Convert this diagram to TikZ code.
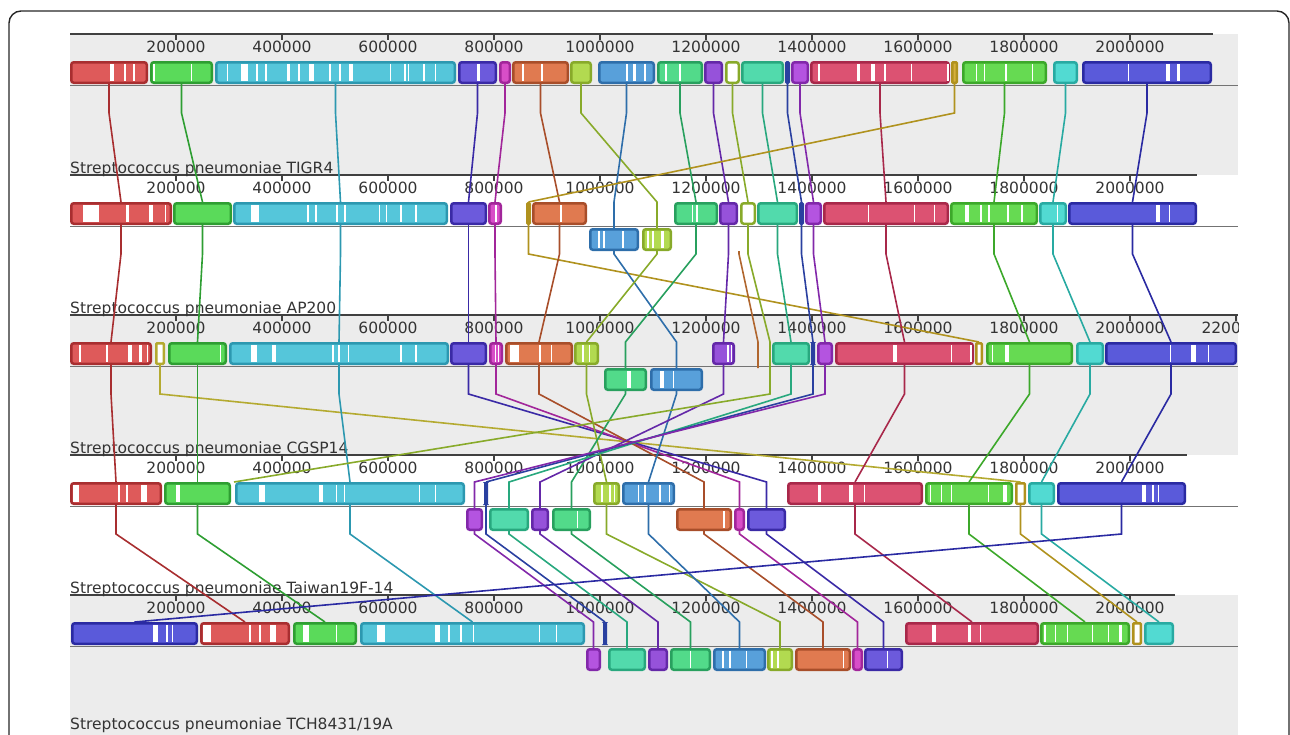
\documentclass[tikz,border=0pt]{standalone}
\usepackage{fontspec}
\newfontfamily\mauvefont{DejaVu Sans}
\definecolor{panelgray}{HTML}{ECECEC}
\definecolor{redF}{HTML}{DE5A5A}\definecolor{redL}{HTML}{A82E30}
\definecolor{greenF}{HTML}{5ADA5A}\definecolor{greenL}{HTML}{2E9E32}
\definecolor{cyanF}{HTML}{55C6DA}\definecolor{cyanL}{HTML}{2C98B0}
\definecolor{violetF}{HTML}{6C5ADC}\definecolor{violetL}{HTML}{3A2AA6}
\definecolor{magF}{HTML}{D84EC8}\definecolor{magL}{HTML}{A2269A}
\definecolor{orangeF}{HTML}{E07A50}\definecolor{orangeL}{HTML}{A84E2A}
\definecolor{limeF}{HTML}{B2DA50}\definecolor{limeL}{HTML}{88AA2A}
\definecolor{blueF}{HTML}{58A0DA}\definecolor{blueL}{HTML}{2E6EAA}
\definecolor{seaF}{HTML}{52DA8A}\definecolor{seaL}{HTML}{28A05E}
\definecolor{purpF}{HTML}{9652DA}\definecolor{purpL}{HTML}{6428A8}
\definecolor{mintF}{HTML}{52DAAC}\definecolor{mintL}{HTML}{28A87E}
\definecolor{navyF}{HTML}{3A5AC6}\definecolor{navyL}{HTML}{2A40A0}
\definecolor{orchF}{HTML}{B454E0}\definecolor{orchL}{HTML}{8228AA}
\definecolor{crimF}{HTML}{DC5272}\definecolor{crimL}{HTML}{A8284A}
\definecolor{goldF}{HTML}{D6B03C}\definecolor{goldL}{HTML}{B0921E}
\definecolor{oliveL}{HTML}{B4AA30}
\definecolor{greF}{HTML}{66DA52}\definecolor{greL}{HTML}{3CA82A}
\definecolor{turqF}{HTML}{52DAD2}\definecolor{turqL}{HTML}{28AAA2}
\definecolor{dblueF}{HTML}{5A5ADA}\definecolor{dblueL}{HTML}{2A2AA2}
\definecolor{brownL}{HTML}{B0662E}
\tikzset{
  lcb/.style={draw, rounded corners=2.5pt, line width=2.5pt, minimum height=20.5pt,
    inner sep=0pt, anchor=north west},
  thin/.style={rounded corners=0.8pt},
  ghost/.style={inner sep=0pt, outer sep=0pt, minimum size=0pt},
  lnk/.style={line width=1.6pt},
  ruler/.style={draw=black!75, line width=1.2pt},
  midline/.style={draw=black!55, line width=0.9pt},
  tick/.style={font=\mauvefont\fontsize{15.5}{17}\selectfont, text=black!80, inner sep=0pt},
  gname/.style={font=\mauvefont\fontsize{15.5}{17}\selectfont, text=black!80,
    anchor=base west, inner sep=0pt},
  bred/.style={fill=redF, draw=redL}, bgreen/.style={fill=greenF, draw=greenL},
  bcyan/.style={fill=cyanF, draw=cyanL}, bviolet/.style={fill=violetF, draw=violetL},
  bmag/.style={fill=magF, draw=magL}, borange/.style={fill=orangeF, draw=orangeL},
  blime/.style={fill=limeF, draw=limeL}, bblue/.style={fill=blueF, draw=blueL},
  bsea/.style={fill=seaF, draw=seaL}, bpurp/.style={fill=purpF, draw=purpL},
  bkay/.style={fill=white, draw=limeL}, bmint/.style={fill=mintF, draw=mintL},
  bnavy/.style={fill=navyF, draw=navyL, thin}, borch/.style={fill=orchF, draw=orchL},
  bcrim/.style={fill=crimF, draw=crimL}, bgold/.style={fill=goldF, draw=goldL},
  bgoldw/.style={fill=white, draw=goldL}, bolivew/.style={fill=white, draw=oliveL},
  bgre/.style={fill=greF, draw=greL}, bturq/.style={fill=turqF, draw=turqL},
  bdblue/.style={fill=dblueF, draw=dblueL}
}
\newcommand{\lcbbox}[5]{\node[lcb,#5,minimum width={#3-#2-2.5}] (#1) at (#2,#4) {};}
\newcommand{\link}[3]{\draw[lnk,draw=#3] (#1.south) -- (#1.south |- 0,\bend) -- (#2.north |- 0,\arr) -- (#2.north);}
\newcommand{\ruler}[3]{\draw[ruler] (70,#1) -- (#2,#1);
  \foreach \v in {2,4,...,#3} {\draw[ruler] (70+53*\v,#1) -- ++(0,6);
    \node[tick] at (70+53*\v,#1+13) {\v00000};}}
\newcommand{\gaps}[2]{\foreach \x/\w in {#2} \fill[white] (\x,#1+3) rectangle ++(\w,17);}

\begin{document}
\begin{tikzpicture}[x=1pt,y=-1pt]
  \useasboundingbox (0,0) rectangle (1290,734);
  \fill[panelgray] (70,34) rectangle (1238,175);
  \fill[panelgray] (70,315) rectangle (1238,455);
  \fill[panelgray] (70,595) rectangle (1238,770);

  \ruler{34}{1213}{20}
  \ruler{175}{1197}{20}
  \begin{scope}
    \clip (70,300) rectangle (1238,455);
    \ruler{315}{1238}{22}
  \end{scope}
  \ruler{455}{1187}{20}
  \ruler{595}{1175}{20}

  \draw[midline] (70,85) -- (1238,85);
  \draw[midline] (70,226) -- (1238,226);
  \draw[midline] (70,366) -- (1238,366);
  \draw[midline] (70,506) -- (1238,506);
  \draw[midline] (70,646) -- (1238,646);

  \node[gname] (lab1) at (70,173) {Streptococcus pneumoniae TIGR4};
  \node[gname] (lab2) at (70,313) {Streptococcus pneumoniae AP200};
  \node[gname] (lab3) at (70,453) {Streptococcus pneumoniae CGSP14};
  \node[gname] (lab4) at (70,593) {Streptococcus pneumoniae Taiwan19F-14};
  \node[gname] (lab5) at (70,729.5) {Streptococcus pneumoniae TCH8431/19A};

  \lcbbox{a1}{70}{148}{61}{bred}
  \lcbbox{b1}{150}{213}{61}{bgreen}
  \lcbbox{c1}{215}{456}{61}{bcyan}
  \lcbbox{d1}{458}{497}{61}{bviolet}
  \lcbbox{e1}{499}{511}{61}{bmag}
  \lcbbox{f1}{512}{569}{61}{borange}
  \lcbbox{g1}{570}{592}{61}{blime}
  \lcbbox{h1}{598}{655}{61}{bblue}
  \lcbbox{i1}{657}{703}{61}{bsea}
  \lcbbox{j1}{704}{723}{61}{bpurp}
  \lcbbox{k1}{725}{740}{61}{bkay}
  \lcbbox{l1}{741}{784}{61}{bmint}
  \lcbbox{m1}{785}{790}{61}{bnavy}
  \lcbbox{n1}{791}{809}{61}{borch}
  \lcbbox{o1}{810}{950}{61}{bcrim}
  \lcbbox{p1}{951}{958}{61}{bgold,thin}
  \lcbbox{q1}{962}{1047}{61}{bgre}
  \lcbbox{r1}{1053}{1078}{61}{bturq}
  \lcbbox{s1}{1082}{1212}{61}{bdblue}

  \lcbbox{a2}{70}{172}{202}{bred}
  \lcbbox{b2}{173}{232}{202}{bgreen}
  \lcbbox{c2}{233}{448}{202}{bcyan}
  \lcbbox{d2}{450}{487}{202}{bviolet}
  \lcbbox{e2}{488}{502}{202}{bmag}
  \lcbbox{p2}{526}{531}{202}{bgoldw,thin}
  \lcbbox{f2}{532}{587}{202}{borange}
  \lcbbox{h2}{589}{639}{228}{bblue}
  \lcbbox{g2}{642}{672}{228}{blime}
  \lcbbox{i2}{674}{718}{202}{bsea}
  \lcbbox{j2}{719}{738}{202}{bpurp}
  \node[ghost] (br2) at (739,251) {};
  \lcbbox{k2}{740}{756}{202}{bkay}
  \lcbbox{l2}{757}{798}{202}{bmint}
  \lcbbox{m2}{799}{804}{202}{bnavy}
  \lcbbox{n2}{805}{822}{202}{borch}
  \lcbbox{o2}{823}{949}{202}{bcrim}
  \lcbbox{q2}{950}{1038}{202}{bgre}
  \lcbbox{r2}{1039}{1067}{202}{bturq}
  \lcbbox{s2}{1068}{1197}{202}{bdblue}

  \lcbbox{a3}{70}{152}{342}{bred}
  \lcbbox{t3}{155}{165}{342}{bolivew,thin}
  \lcbbox{b3}{168}{227}{342}{bgreen}
  \lcbbox{c3}{229}{449}{342}{bcyan}
  \lcbbox{d3}{450}{487}{342}{bviolet}
  \lcbbox{e3}{489}{503}{342}{bmag}
  \lcbbox{f3}{505}{573}{342}{borange}
  \lcbbox{g3}{574}{599}{342}{blime}
  \lcbbox{i3}{604}{647}{368}{bsea}
  \lcbbox{h3}{650}{703}{368}{bblue}
  \lcbbox{j3}{712}{735}{342}{bpurp}
  \node[ghost] (br3) at (758,368) {};
  \node[ghost] (k3) at (770,342) {};
  \lcbbox{l3}{772}{810}{342}{bmint}
  \lcbbox{m3}{811}{815}{342}{bnavy}
  \lcbbox{n3}{817}{833}{342}{borch}
  \lcbbox{o3}{835}{974}{342}{bcrim}
  \lcbbox{p3}{975}{983}{342}{bgoldw,thin}
  \lcbbox{q3}{986}{1073}{342}{bgre}
  \lcbbox{r3}{1076}{1104}{342}{bturq}
  \lcbbox{s3}{1105}{1237}{342}{bdblue}

  \lcbbox{a4}{70}{162}{482}{bred}
  \lcbbox{b4}{164}{231}{482}{bgreen}
  \node[ghost] (k4) at (234,482) {};
  \lcbbox{c4}{235}{465}{482}{bcyan}
  \lcbbox{n4}{466}{483}{508}{borch}
  \lcbbox{m4}{484}{488}{482}{bnavy}
  \lcbbox{l4}{489}{529}{508}{bmint}
  \lcbbox{j4}{531}{549}{508}{bpurp}
  \lcbbox{i4}{552}{591}{508}{bsea}
  \lcbbox{g4}{593}{620}{482}{blime}
  \lcbbox{h4}{622}{675}{482}{bblue}
  \lcbbox{f4}{676}{732}{508}{borange}
  \lcbbox{e4}{734}{745}{508}{bmag}
  \lcbbox{d4}{747}{786}{508}{bviolet}
  \lcbbox{o4}{787}{923}{482}{bcrim}
  \lcbbox{q4}{925}{1013}{482}{bgre}
  \lcbbox{p4}{1015}{1026}{482}{bgoldw,thin}
  \lcbbox{r4}{1028}{1055}{482}{bturq}
  \lcbbox{s4}{1057}{1186}{482}{bdblue}

  \lcbbox{s5}{71}{198}{622}{bdblue}
  \lcbbox{a5}{200}{290}{622}{bred}
  \lcbbox{b5}{293}{357}{622}{bgreen}
  \lcbbox{c5}{360}{585}{622}{bcyan}
  \lcbbox{n5}{586}{601}{648}{borch}
  \lcbbox{m5}{603}{607}{622}{bnavy}
  \lcbbox{l5}{608}{646}{648}{bmint}
  \lcbbox{j5}{648}{668}{648}{bpurp}
  \lcbbox{i5}{670}{711}{648}{bsea}
  \lcbbox{h5}{713}{766}{648}{bblue}
  \lcbbox{g5}{767}{793}{648}{blime}
  \lcbbox{f5}{795}{851}{648}{borange}
  \lcbbox{e5}{852}{863}{648}{bmag}
  \lcbbox{d5}{864}{903}{648}{bviolet}
  \lcbbox{o5}{905}{1039}{622}{bcrim}
  \lcbbox{q5}{1040}{1130}{622}{bgre}
  \lcbbox{p5}{1132}{1142}{622}{bgoldw,thin}
  \lcbbox{r5}{1144}{1174}{622}{bturq}

  \def\bend{113}\def\arr{202}
  \link{a1}{a2}{redL} \link{b1}{b2}{greenL} \link{c1}{c2}{cyanL}
  \link{d1}{d2}{violetL} \link{e1}{e2}{magL} \link{f1}{f2}{orangeL}
  \link{g1}{g2}{limeL} \link{h1}{h2}{blueL} \link{i1}{i2}{seaL}
  \link{j1}{j2}{purpL} \link{k1}{k2}{limeL} \link{l1}{l2}{mintL}
  \link{m1}{m2}{navyL} \link{n1}{n2}{orchL} \link{o1}{o2}{crimL}
  \link{p1}{p2}{goldL} \link{q1}{q2}{greL} \link{r1}{r2}{turqL}
  \link{s1}{s2}{dblueL}

  \def\bend{254}\def\arr{342}
  \link{a2}{a3}{redL} \link{b2}{b3}{greenL} \link{c2}{c3}{cyanL}
  \link{d2}{d3}{violetL} \link{e2}{e3}{magL} \link{p2}{p3}{goldL}
  \link{f2}{f3}{orangeL} \link{h2}{h3}{blueL} \link{g2}{g3}{limeL}
  \link{i2}{i3}{seaL} \link{j2}{j3}{purpL} \link{br2}{br3}{brownL}
  \link{k2}{k3}{limeL} \link{l2}{l3}{mintL} \link{m2}{m3}{navyL}
  \link{n2}{n3}{orchL} \link{o2}{o3}{crimL} \link{q2}{q3}{greL}
  \link{r2}{r3}{turqL} \link{s2}{s3}{dblueL}

  \def\bend{394}\def\arr{482}
  \link{a3}{a4}{redL} \link{t3}{p4}{oliveL} \link{b3}{b4}{greenL}
  \link{c3}{c4}{cyanL} \link{d3}{d4}{violetL} \link{e3}{e4}{magL}
  \link{f3}{f4}{orangeL} \link{g3}{g4}{limeL} \link{i3}{i4}{seaL}
  \link{h3}{h4}{blueL} \link{j3}{j4}{purpL} \link{k3}{k4}{limeL}
  \link{l3}{l4}{mintL} \link{m3}{m4}{navyL} \link{n3}{n4}{orchL}
  \link{o3}{o4}{crimL} \link{q3}{q4}{greL} \link{r3}{r4}{turqL}
  \link{s3}{s4}{dblueL}

  \def\bend{534}\def\arr{622}
  \link{a4}{a5}{redL} \link{b4}{b5}{greenL} \link{c4}{c5}{cyanL}
  \link{n4}{n5}{orchL} \link{m4}{m5}{navyL} \link{l4}{l5}{mintL}
  \link{j4}{j5}{purpL} \link{i4}{i5}{seaL} \link{g4}{g5}{limeL}
  \link{h4}{h5}{blueL} \link{f4}{f5}{orangeL} \link{e4}{e5}{magL}
  \link{d4}{d5}{violetL} \link{o4}{o5}{crimL} \link{q4}{q5}{greL}
  \link{p4}{p5}{goldL} \link{r4}{r5}{turqL} \link{s4}{s5}{dblueL}

  \gaps{61}{110/4, 124/1.5, 133/2, 153/1.5, 191/1, 227/1, 241/7, 256/2, 265/1.5, 287/3,
    298/1.5, 309/5, 329/2, 339/1.5, 349/4, 390/1, 404/1.5, 408/1, 423/1.5, 435/1,
    477/3, 522/1.5, 541/2, 626/1.5, 633/3, 644/2, 665/1.5, 679/1.5, 818/1.5, 857/3,
    871/4, 884/1.5, 911/1, 947/2, 976/1, 984/1, 1005/1.5, 1032/1, 1128/1, 1166/4, 1177/3}
  \gaps{202}{83/16, 126/2.5, 149/4, 165/1, 251/8, 307/1.5, 315/1.5, 336/1.5, 344/1.5,
    379/1, 386/1, 400/1.5, 415/1.5, 495/1.5, 560/1.5, 692/1, 696/1.5, 868/1, 914/1,
    934/1, 965/4, 980/1.5, 988/1.5, 1007/1.5, 1021/1.5, 1057/1, 1156/4, 1169/1}
  \gaps{228}{598/1.5, 603/2, 622/1.5, 647/2, 652/1.5, 661/3}
  \gaps{342}{79/1.5, 106/1.5, 128/4, 139/3, 147/1, 220/1, 251/6, 272/4, 332/1.5,
    338/1.5, 348/1, 400/1.5, 415/1.5, 495/1, 498/1, 510/9, 539/1.5, 551/1, 582/1.5,
    589/1, 727/1.5, 731/1, 893/4, 951/1, 970/1.5, 992/1, 1005/4, 1170/1, 1191/5, 1208/1}
  \gaps{368}{627/4, 660/4, 673/1}
  \gaps{482}{73/6, 118/1.5, 126/1.5, 141/6, 176/4, 259/6, 319/4, 336/1, 344/1, 419/1,
    435/1, 601/1.5, 609/1.5, 614/1, 638/1, 644/2, 659/1.5, 669/1, 818/3, 849/4, 864/1,
    930/1, 941/1, 951/1, 988/1, 1003/4, 1142/4, 1152/1.5, 1158/1}
  \gaps{508}{577/1, 723/1.5}
  \gaps{622}{153/5, 166/2, 172/1, 203/8, 249/1.5, 259/1.5, 270/6, 303/6, 336/1, 377/8,
    435/5, 448/1.5, 460/1.5, 473/1, 539/1, 556/1, 932/4, 968/3, 980/1, 1044/1.5,
    1055/1, 1067/1, 1092/1, 1108/1, 1119/3}
  \gaps{648}{690/1, 722/2, 729/1.5, 746/1, 771/2, 777/2, 843/1, 887/1}

  \draw[black!85, line width=1.4pt, rounded corners=12pt] (9,11) rectangle (1289,780);
\end{tikzpicture}
\end{document}
